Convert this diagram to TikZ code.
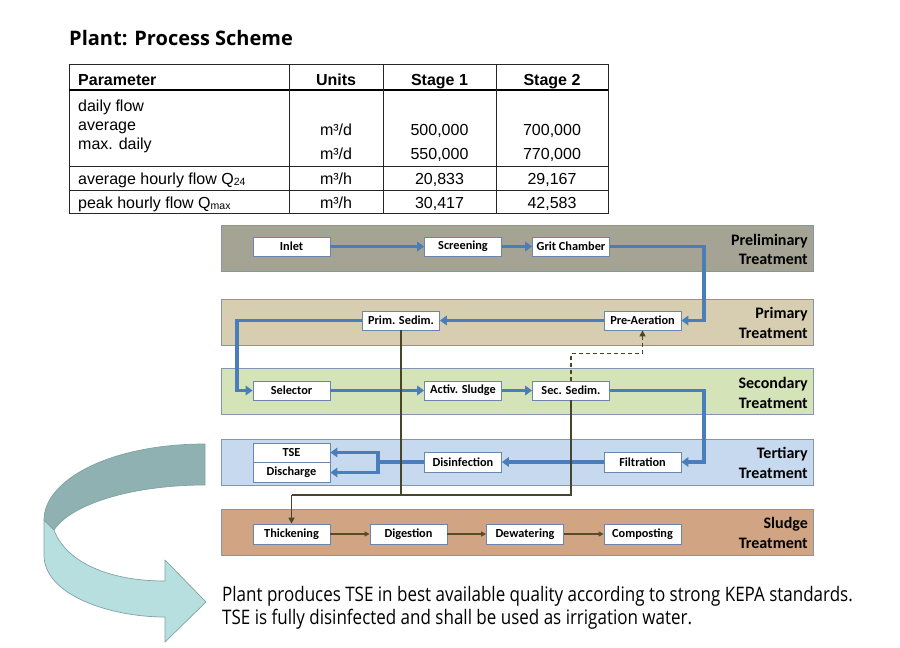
\documentclass[tikz,border=0pt]{standalone}
\usepackage{fontspec}
\setmainfont{Liberation Sans}
\newfontfamily\calib{Carlito}
\newfontfamily\osans{Open Sans}
\newfontfamily\osnarrow[FakeStretch=0.85]{Open Sans}
\usetikzlibrary{arrows.meta}
\definecolor{blueln}{HTML}{4A7EBB}
\definecolor{boxedge}{HTML}{6A86AC}
\definecolor{bandedge}{HTML}{8296B0}
\definecolor{prelc}{HTML}{A5A393}
\definecolor{primc}{HTML}{D7CDB0}
\definecolor{secc}{HTML}{D5E3B9}
\definecolor{terc}{HTML}{C6D9EF}
\definecolor{sluc}{HTML}{D1A584}
\definecolor{olivec}{HTML}{47452A}
\definecolor{chainc}{HTML}{5A4A2C}
\definecolor{darkrib}{HTML}{8FB1B1}
\definecolor{lightrib}{HTML}{B7DFE0}
\definecolor{ribedge}{HTML}{7FA3A3}
\tikzset{
  band/.style={draw=bandedge, line width=0.8pt, minimum width=592pt, minimum height=46pt, anchor=north west, inner sep=0pt},
  procbox/.style={draw=boxedge, fill=white, line width=0.8pt, minimum width=77pt, minimum height=19pt, inner sep=0pt, font=\calib\bfseries\fontsize{12.3}{12.3}\selectfont},
  bandlabel/.style={anchor=east, align=right, inner sep=0pt, font=\calib\bfseries\fontsize{16}{19.5}\selectfont},
  flowline/.style={draw=blueln, line width=3.3pt},
  flow/.style={flowline, -{Triangle[length=7pt,width=9.5pt]}},
  sludgeline/.style={draw=olivec, line width=1.6pt},
  sludgeflow/.style={sludgeline, -{Triangle[length=6pt,width=6pt]}},
  chainflow/.style={draw=chainc, line width=1.3pt, -{Triangle[length=5pt,width=5pt]}},
  thead/.style={anchor=base, inner sep=0pt, font=\bfseries\fontsize{16}{16}\selectfont},
  tcell/.style={anchor=base, inner sep=0pt, font=\fontsize{16}{16}\selectfont},
  tleft/.style={anchor=base west, inner sep=0pt, font=\fontsize{16}{16}\selectfont},
  tline/.style={draw=black!85, line width=0.9pt},
  notetext/.style={anchor=base west, inner sep=0pt, font=\osnarrow\fontsize{20}{20}\selectfont},
}
\newcommand{\subsm}[1]{\raisebox{-1.5pt}{\fontsize{10.5}{10.5}\selectfont #1}}
\begin{document}
\begin{tikzpicture}[x=1pt,y=-1pt]
\useasboundingbox (0,0) rectangle (900,648);
\fill[white] (0,0) rectangle (900,648);

% title
\node[anchor=base west, inner sep=0pt, font=\osans\bfseries\fontsize{20}{20}\selectfont] (title) at (69,45) {Plant: Process Scheme};

% table
\draw[tline] (69,64) rectangle (608,213);
\draw[draw=black, line width=2.6pt] (69,90) -- (608,90);
\draw[tline] (69,166) -- (608,166);
\draw[tline] (69,190) -- (608,190);
\draw[tline] (289,64) -- (289,213);
\draw[tline] (383,64) -- (383,213);
\draw[tline] (496,64) -- (496,213);
\node[anchor=base west, inner sep=0pt, font=\bfseries\fontsize{16}{16}\selectfont] (hpar) at (78,85) {Parameter};
\node[thead] (hunit) at (336,85) {Units};
\node[thead] (hs1) at (439.5,85) {Stage 1};
\node[thead] (hs2) at (552,85) {Stage 2};
\node[tleft] (r1a) at (78,111.5) {daily flow};
\node[tleft] (r1b) at (78,130.5) {average};
\node[tleft] (r1c) at (78,149.5) {max. daily};
\node[tcell] (u1) at (336,135) {m³/d};
\node[tcell] (u2) at (336,159) {m³/d};
\node[tcell] (a1) at (439.5,135) {500,000};
\node[tcell] (a2) at (439.5,159) {550,000};
\node[tcell] (b1) at (552,135) {700,000};
\node[tcell] (b2) at (552,159) {770,000};
\node[tleft] (r2) at (78,184) {average hourly flow Q\subsm{24}};
\node[tcell] (u3) at (336,184) {m³/h};
\node[tcell] (a3) at (439.5,184) {20,833};
\node[tcell] (b3) at (552,184) {29,167};
\node[tleft] (r3) at (78,208) {peak hourly flow Q\subsm{max}};
\node[tcell] (u4) at (336,208) {m³/h};
\node[tcell] (a4) at (439.5,208) {30,417};
\node[tcell] (b4) at (552,208) {42,583};

% curved ribbon arrow
\draw[fill=darkrib, draw=ribedge, line width=0.7pt, line join=round]
  (205,444) .. controls (110,444) and (44,480) .. (44,520)
  -- (54,530) .. controls (70,505) and (130,485) .. (205,485) -- cycle;
\draw[fill=lightrib, draw=ribedge, line width=0.7pt, line join=round]
  (44,520) -- (44,555) .. controls (44,595) and (110,617) .. (165,617)
  -- (165,642) -- (206,602) -- (165,560) -- (165,581)
  .. controls (105,581) and (65,560) .. (54,530) -- cycle;

% bands
\node[band, fill=prelc] (bprel) at (221,225) {};
\node[band, fill=primc] (bprim) at (221,299) {};
\node[band, fill=secc] (bsec) at (221,368) {};
\node[band, fill=terc] (bter) at (221,439) {};
\node[band, fill=sluc] (bslu) at (221,509) {};
\node[bandlabel] (lprel) at (808,249.5) {Preliminary\\Treatment};
\node[bandlabel] (lprim) at (808,323) {Primary\\Treatment};
\node[bandlabel] (lsec) at (808,393) {Secondary\\Treatment};
\node[bandlabel] (lter) at (808,463) {Tertiary\\Treatment};
\node[bandlabel] (lslu) at (808,533) {Sludge\\Treatment};

% process boxes
\node[procbox] (inlet) at (291.5,246.5) {Inlet};
\node[procbox] (screen) at (463,246.5) {Screening};
\node[procbox] (grit) at (571,246.5) {Grit Chamber};
\node[procbox] (prim) at (401,320.5) {Prim. Sedim.};
\node[procbox] (pre) at (642.5,320.5) {Pre-Aeration};
\node[procbox] (sel) at (291.5,390.5) {Selector};
\node[procbox] (act) at (463,390.5) {Activ. Sludge};
\node[procbox] (sec) at (571,390.5) {Sec. Sedim.};
\node[procbox] (tse) at (291.5,452.5) {TSE};
\node[procbox, minimum height=20pt] (dis) at (291.5,472.5) {Discharge};
\node[procbox, minimum height=20pt] (disinf) at (463,462) {Disinfection};
\node[procbox, minimum height=20pt] (filt) at (642.5,462) {Filtration};
\node[procbox, minimum height=20pt] (thick) at (291.5,534) {Thickening};
\node[procbox, minimum height=20pt] (dig) at (408.5,534) {Digestion};
\node[procbox, minimum height=20pt] (dew) at (525,534) {Dewatering};
\node[procbox, minimum height=20pt] (comp) at (642.5,534) {Composting};

% water flow
\coordinate (cR1) at (704,246.5);
\coordinate (cL1) at (237,320.5);
\coordinate (cR2) at (704,390.5);
\coordinate (cT) at (378,462);
\draw[flow] (inlet) -- (screen);
\draw[flow] (screen) -- (grit);
\draw[flow] (grit.east) -- (cR1) |- (pre.east);
\draw[flow] (pre) -- (prim);
\draw[flow] (prim.west) -- (cL1) |- (sel.west);
\draw[flow] (sel) -- (act);
\draw[flow] (act) -- (sec);
\draw[flow] (sec.east) -- (cR2) |- (filt.east);
\draw[flow] (filt) -- (disinf);
\draw[flowline] (disinf.west) -- (cT);
\draw[flow] (cT) |- (tse.east);
\draw[flow] (cT) |- (dis.east);

% sludge lines
\coordinate (cS) at (291.5,495);
\draw[sludgeline] (prim.south) -- (prim.south |- cS);
\draw[sludgeline] (sec.south) |- (cS);
\draw[sludgeflow] (cS) -- (thick.north);
\draw[sludgeflow, dashed, dash pattern=on 4pt off 3pt, line width=1.3pt] (sec.north) -- ++(0,-27) -| (pre.south);
\draw[chainflow] (thick) -- (dig);
\draw[chainflow] (dig) -- (dew);
\draw[chainflow] (dew) -- (comp);

% bottom text
\node[notetext] (note1) at (222,601) {Plant produces TSE in best available quality according to strong KEPA standards.};
\node[notetext] (note2) at (222,624) {TSE is fully disinfected and shall be used as irrigation water.};
\end{tikzpicture}
\end{document}
